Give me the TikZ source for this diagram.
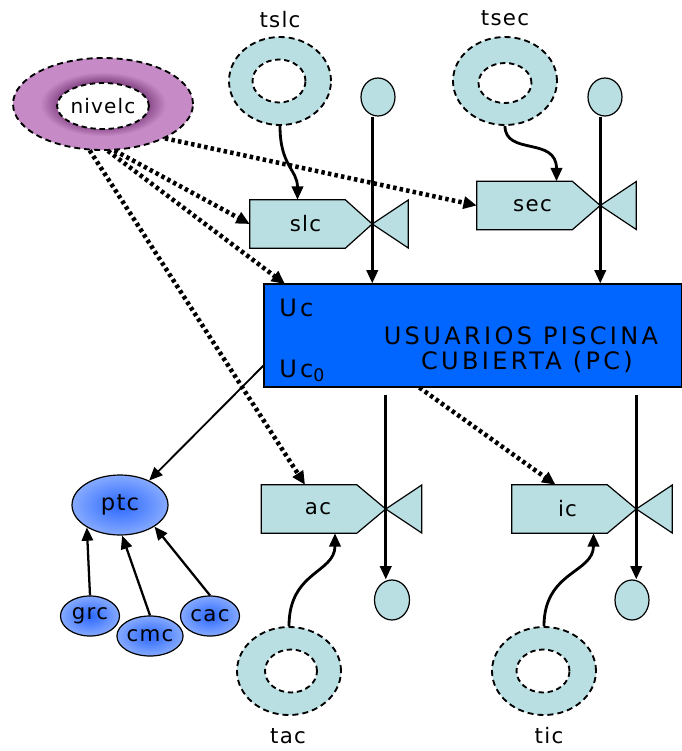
\documentclass[tikz,border=0pt]{standalone}
\usepackage{fontspec}
\setmainfont{DejaVu Sans}
\newfontfamily\labfont[LetterSpace=6]{DejaVu Sans}
\newfontfamily\boxfont[LetterSpace=14]{DejaVu Sans}
\usetikzlibrary{shapes.geometric,arrows.meta,calc}
\definecolor{tealfill}{HTML}{B9DFE2}
\definecolor{boxblue}{HTML}{0066FF}
\definecolor{ringdark}{HTML}{8A4A8A}
\definecolor{ringlight}{HTML}{C68BC6}
\definecolor{blobin}{HTML}{2B68FF}
\definecolor{blobout}{HTML}{86AAFF}
\pgfdeclareradialshading{ringshade}{\pgfpoint{0bp}{0bp}}{color(0bp)=(ringdark); color(12.5bp)=(ringdark); color(17.5bp)=(ringlight); color(25bp)=(ringlight); color(50bp)=(ringlight)}
\newcommand\pxu{0.75pt}
\begin{document}
\begin{tikzpicture}[x=0.75pt,y=-0.75pt,
  ring/.style={ellipse, draw, dash pattern=on 4.5pt off 3pt, line width=1.4pt, fill=tealfill, inner sep=0pt},
  hole/.style={ellipse, draw, dash pattern=on 4pt off 2.8pt, line width=1.4pt, fill=white, inner sep=0pt},
  lab/.style={font=\labfont\fontsize{16}{19}\selectfont, inner sep=1pt},
  valvebox/.style={draw=none, inner sep=0pt, minimum width=95*\pxu, minimum height=48*\pxu, font=\labfont\fontsize{16}{19}\selectfont},
  valvefill/.style={draw, line width=0.9pt, fill=tealfill},
  knob/.style={ellipse, draw, line width=0.9pt, fill=tealfill, inner sep=0pt, minimum width=34*\pxu, minimum height=38*\pxu},
  blob/.style={ellipse, draw, line width=0.9pt, inner color=blobin, outer color=blobout, inner sep=0pt, font=\labfont\fontsize{16}{19}\selectfont},
  flow/.style={line width=2.1pt, -{Triangle[length=10pt,width=8.5pt]}},
  thinflow/.style={line width=1.4pt, -{Triangle[length=10pt,width=8.5pt]}},
  dotflow/.style={line width=3.4pt, dash pattern=on 2.6pt off 2.4pt, -{Triangle[length=10pt,width=9pt]}},
  boxtext/.style={font=\boxfont\fontsize{18}{21}\selectfont, inner sep=0pt}
]
\useasboundingbox (0,0) rectangle (682,751);

% nivelc ring
\node[ellipse, draw, dash pattern=on 4.5pt off 3pt, line width=1.4pt, shading=ringshade, shade, inner sep=0pt,
      minimum width=180*\pxu, minimum height=92*\pxu] (nivelc) at (103,104) {};
\node[hole, minimum width=90*\pxu, minimum height=46*\pxu, font=\labfont\fontsize{15}{18}\selectfont] (nivelc-h) at (103,106) {nivelc};

% stock rings
\node[ring, minimum width=102*\pxu, minimum height=88*\pxu] (tslc) at (280,81) {};
\node[hole, minimum width=53*\pxu, minimum height=43*\pxu] (tslc-h) at (279,81) {};
\node[lab] (tslc-l) at (280,20) {tslc};

\node[ring, minimum width=104*\pxu, minimum height=88*\pxu] (tsec) at (505,81) {};
\node[hole, minimum width=53*\pxu, minimum height=40*\pxu] (tsec-h) at (505,83) {};
\node[lab] (tsec-l) at (505,18) {tsec};

\node[ring, minimum width=104*\pxu, minimum height=88*\pxu] (tac) at (289,671) {};
\node[hole, minimum width=52*\pxu, minimum height=43*\pxu] (tac-h) at (291,671) {};
\node[lab] (tac-l) at (288,736) {tac};

\node[ring, minimum width=104*\pxu, minimum height=88*\pxu] (tic) at (544,671) {};
\node[hole, minimum width=53*\pxu, minimum height=43*\pxu] (tic-h) at (543,671) {};
\node[lab] (tic-l) at (549,736) {tic};

% valves (shapes)
\node[valvebox] (slc) at (297.5,224) {};
\node[valvebox] (sec) at (524.5,205.5) {};
\node[valvebox] (ac) at (309,509) {};
\node[valvebox] (ic) at (559.5,509) {};
\coordinate (slc-tip) at ($(slc.east)+(27,0)$);
\coordinate (sec-tip) at ($(sec.east)+(28,0)$);
\coordinate (ac-tip) at ($(ac.east)+(29,0)$);
\coordinate (ic-tip) at ($(ic.east)+(29,0)$);
\foreach \v in {slc,sec,ac,ic}{
  \draw[valvefill] (\v.north west) -- (\v.north east) -- (\v-tip) -- (\v.south east) -- (\v.south west) -- cycle;
  \draw[valvefill] (\v-tip) -- ++(36,-24) -- ++(0,48) -- cycle;
}
\node[valvebox] (slc-t) at ($(slc)+(8,0)$) {slc};
\node[valvebox] (sec-t) at ($(sec)+(8,0)$) {sec};
\node[valvebox] (ac-t) at ($(ac)+(9,0)$) {ac};
\node[valvebox] (ic-t) at ($(ic)+(8,0)$) {ic};

% knobs
\node[knob] (k1) at (378,97) {};
\node[knob] (k2) at (605,97) {};
\node[knob, minimum width=35*\pxu, minimum height=40*\pxu] (k3) at (392,600) {};
\node[knob, minimum width=34*\pxu, minimum height=40*\pxu] (k4) at (632,600) {};

% dotted influence arrows (under the box)
\draw[dotflow] (nivelc.-29) -- (sec.west);
\draw[dotflow] (nivelc.-76) -- (slc.west);
\coordinate (pc-in) at (285,284);
\draw[dotflow] (nivelc.-84) -- (pc-in);
\draw[dotflow] (nivelc.-106) -- ($(ac.north)+(-4,0)$);

% main box
\node[draw, line width=0.9pt, fill=boxblue, inner sep=0pt, minimum width=418*\pxu, minimum height=103*\pxu] (pc) at (473,335.5) {};
\node[boxtext, anchor=west] (uc) at (279,308) {Uc};
\node[boxtext, anchor=west] (uc0) at (279,371) {Uc\raisebox{-0.35ex}{\fontsize{13}{15}\selectfont 0}};
\node[boxtext] (t1) at (521,336) {USUARIOS PISCINA};
\node[boxtext] (t2) at (527,362) {CUBIERTA (PC)};

\draw[dotflow] ($(pc.south west)+(156,0)$) -- ($(ic.north)+(-4,0)$);

% vertical flow lines
\draw[flow] (k1.south -| slc-tip) -- (slc-tip |- pc.north);
\draw[flow] (k2.south -| sec-tip) -- (sec-tip |- pc.north);
\draw[flow] ($(ac-tip |- pc.south)+(0,7)$) -- (ac-tip |- k3.north);
\draw[flow] ($(ic-tip |- pc.south)+(0,7)$) -- (ic-tip |- k4.north);

% curved arrows from rings
\draw[flow] (tslc.south) .. controls +(0,40) and +(0,-30) .. (slc.north);
\draw[flow] (tsec.south) .. controls +(0,30) and +(0,-45) .. ($(sec.north)+(32,0)$);
\draw[flow] (tac.north) .. controls +(0,-55) and +(0,40) .. ($(ac.south)+(26,0)$);
\draw[flow] (tic.north) .. controls +(0,-55) and +(0,40) .. ($(ic.south)+(34,0)$);

% ptc cluster
\node[blob, minimum width=96*\pxu, minimum height=60*\pxu, font=\labfont\fontsize{17}{20}\selectfont] (ptc) at (120,505) {ptc};
\node[blob, minimum width=59*\pxu, minimum height=40*\pxu] (grc) at (90,616) {grc};
\node[blob, minimum width=59*\pxu, minimum height=40*\pxu] (cmc) at (150,636) {cmc};
\node[blob, minimum width=59*\pxu, minimum height=40*\pxu] (cac) at (210,616) {cac};
\draw[flow, line width=1.7pt] (grc.north) -- (ptc.-146);
\draw[flow, line width=1.7pt] (cmc.north) -- (ptc.-86);
\draw[flow, line width=1.7pt] (cac.north) -- (ptc.-32);
\draw[thinflow] ($(pc.south west)+(0,-22)$) -- (ptc.40);
\end{tikzpicture}
\end{document}
